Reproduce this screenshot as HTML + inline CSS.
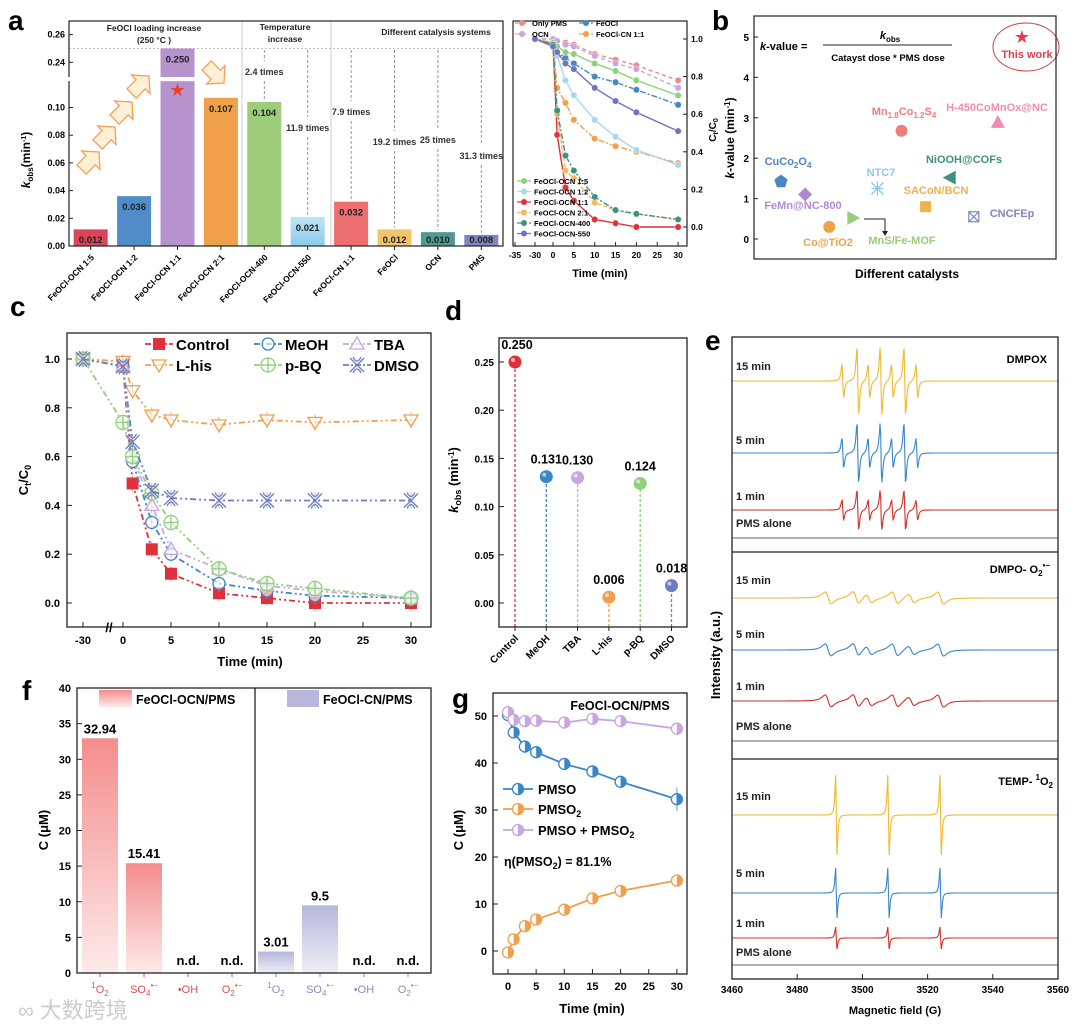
<!DOCTYPE html>
<html><head><meta charset="utf-8"><style>
html,body{margin:0;padding:0;background:#fff}
svg{display:block;font-family:"Liberation Sans",Arial,sans-serif}
</style></head><body>
<svg id="fig" width="1080" height="1027" viewBox="0 0 1080 1027" xmlns="http://www.w3.org/2000/svg">
<defs>
<linearGradient id="gRed" x1="0" y1="0" x2="0" y2="1"><stop offset="0" stop-color="#f58c8c"/><stop offset="1" stop-color="#fdeaea"/></linearGradient>
<linearGradient id="gPur" x1="0" y1="0" x2="0" y2="1"><stop offset="0" stop-color="#b7b7dc"/><stop offset="1" stop-color="#eeeef7"/></linearGradient>
<linearGradient id="gLb" x1="0" y1="0" x2="0" y2="1"><stop offset="0" stop-color="#bfe3f5"/><stop offset="1" stop-color="#8ccbec"/></linearGradient>
</defs>
<rect width="1080" height="1027" fill="#fff"/>
<g font-weight="bold" font-size="28">
<text x="8" y="30">a</text>
<text x="712" y="30">b</text>
<text x="10" y="316">c</text>
<text x="445" y="320">d</text>
<text x="705" y="350">e</text>
<text x="22" y="700">f</text>
<text x="452" y="708">g</text>
</g>
<text x="18" y="1018" font-size="22" fill="#ccc" font-family="'Liberation Sans','Noto Sans CJK SC',sans-serif">∞ 大数跨境</text>
</svg>
<script>
const NS='http://www.w3.org/2000/svg';
const svg=document.getElementById('fig');
function mk(tag,attrs,parent){const e=document.createElementNS(NS,tag);for(const k in attrs)e.setAttribute(k,attrs[k]);(parent||svg).appendChild(e);return e;}
function txt(s,x,y,a,parent){const e=mk('text',Object.assign({x:x,y:y},a||{}),parent);e.innerHTML=s;return e;}
function grp(){const g=mk('g',{});return g;}

/* ================= PANEL A data ================= */
const aCats=['FeOCl-OCN 1:5','FeOCl-OCN 1:2','FeOCl-OCN 1:1','FeOCl-OCN 2:1','FeOCl-OCN-400','FeOCl-OCN-550','FeOCl-CN 1:1','FeOCl','OCN','PMS'];
const aVals=[0.012,0.036,0.250,0.107,0.104,0.021,0.032,0.012,0.010,0.008];
const aColors=['#d9465a','#4f8cc9','#b693cc','#f0a04b','#9dcd7b','url(#gLb)','#ee6f6f','#f2c46d','#4f9a8f','#7f86c0'];
const aTimes=['','','','','2.4 times','11.9 times','7.9 times','19.2 times','25 times','31.3 times'];
const aTicksLow=[0,0.02,0.04,0.06,0.08,0.10];
const aTicksHigh=[0.24,0.26];
/* ================= INSET data ================= */
const iTimes=[-30,0,1,3,5,10,15,20,30];
const iNames=['Only PMS','OCN','FeOCl','FeOCl-CN 1:1','FeOCl-OCN 1:5','FeOCl-OCN 1:2','FeOCl-OCN 1:1','FeOCl-OCN 2:1','FeOCl-OCN-400','FeOCl-OCN-550'];
const iS0=[1,1,0.99,0.98,0.97,0.92,0.89,0.86,0.78];
const iS1=[1,1,0.99,0.97,0.96,0.91,0.87,0.84,0.74];
const iS2=[1,0.97,0.93,0.9,0.87,0.8,0.77,0.73,0.65];
const iS3=[1,0.98,0.74,0.66,0.57,0.47,0.43,0.4,0.34];
const iS4=[1,0.98,0.96,0.93,0.92,0.87,0.83,0.78,0.7];
const iS5=[1,0.97,0.91,0.78,0.7,0.57,0.48,0.41,0.33];
const iS6=[1,0.97,0.49,0.21,0.14,0.04,0.02,0.0,0.0];
const iS7=[1,0.97,0.6,0.3,0.26,0.13,0.09,0.07,0.04];
const iS8=[1,0.97,0.62,0.38,0.3,0.16,0.09,0.07,0.04];
const iS9=[1,0.96,0.93,0.87,0.84,0.74,0.67,0.61,0.51];
/* ================= PANEL B data ================= */
const bNames=['CuCo<tspan font-size="8" dy="3">2</tspan><tspan dy="-3">O</tspan><tspan font-size="8" dy="3">4</tspan>','FeMn@NC-800','Co@TiO2','MnS/Fe-MOF','NTC7','Mn<tspan font-size="8" dy="3">1.8</tspan><tspan dy="-3">Co</tspan><tspan font-size="8" dy="3">1.2</tspan><tspan dy="-3">S</tspan><tspan font-size="8" dy="3">4</tspan>','SACoN/BCN','NiOOH@COFs','CNCFEp','H-450CoMnOx@NC','This work'];
const bVals=[1.42,1.1,0.3,0.52,1.25,2.68,0.8,1.52,0.55,2.9,5.0];
const bTicks=[0,1,2,3,4,5];
/* ================= PANEL C data ================= */
const cTimes=[-30,0,1,3,5,10,15,20,30];
const cNames=['Control','MeOH','TBA','L-his','p-BQ','DMSO'];
const cControl=[1,0.97,0.49,0.22,0.12,0.04,0.02,0.0,0.0];
const cMeOH=[1,0.97,0.58,0.33,0.2,0.08,0.05,0.03,0.02];
const cTBA=[1,0.97,0.6,0.4,0.22,0.14,0.07,0.05,0.02];
const cLhis=[1,0.99,0.87,0.77,0.75,0.73,0.75,0.74,0.75];
const cPBQ=[1,0.74,0.6,0.45,0.33,0.14,0.08,0.06,0.02];
const cDMSO=[1,0.97,0.66,0.46,0.43,0.42,0.42,0.42,0.42];
const cYTicks=[0,0.2,0.4,0.6,0.8,1.0];
const cXTicks=[-30,0,5,10,15,20,25,30];
/* ================= PANEL D data ================= */
const dCats=['Control','MeOH','TBA','L-his','p-BQ','DMSO'];
const dVals=[0.250,0.131,0.130,0.006,0.124,0.018];
const dTicks=[0,0.05,0.10,0.15,0.20,0.25];
/* ================= PANEL F data ================= */
const fCats=['<tspan font-size="8" dy="-5">1</tspan><tspan dy="5">O</tspan><tspan font-size="8" dy="3">2</tspan>','SO<tspan font-size="8" dy="3">4</tspan><tspan font-size="8" dy="-8">•−</tspan>','•OH','O<tspan font-size="8" dy="3">2</tspan><tspan font-size="8" dy="-8">•−</tspan>'];
const fOCN=[32.94,15.41,0,0];
const fCN=[3.01,9.5,0,0];
const fOCNLbl=['32.94','15.41','n.d.','n.d.'];
const fCNLbl=['3.01','9.5','n.d.','n.d.'];
const fTicks=[0,5,10,15,20,25,30,35,40];
/* ================= PANEL G data ================= */
const gTimes=[0,1,3,5,10,15,20,30];
const gPMSO=[50.2,46.5,43.5,42.3,39.8,38.2,36.0,32.3];
const gPMSO2=[-0.3,2.5,5.3,6.7,8.8,11.2,12.8,15.0];
const gSum=[50.8,49.2,48.9,49.0,48.6,49.4,48.9,47.3];
const gYTicks=[0,10,20,30,40,50];
const gXTicks=[0,5,10,15,20,25,30];
/* ================= PANEL E data ================= */
const eXTicks=[3460,3480,3500,3520,3540,3560];
const eDmpoxPos=[3494,3498.6,3502,3505.7,3509.2,3513,3516.7];
const eDmpoxRel=[1,2,1,2,1,2,1];
const eDmpoxAmp=[34,30,20,0];
const eO2Pos=[3489.5,3498,3502,3510,3515,3524];
const eO2Rel=[1,1,0.7,1,0.7,1];
const eO2Amp=[6,6,6,0];
const eTempPos=[3492,3508,3524];
const eTempAmp=[40,25,11,0];

/* ---------- PANEL A ---------- */
(function(){
const g=grp();


const L=69,R=503,T=21,B=246;
function ya(v){return v<=0.12? B-v*1385 : 48.5-(v-0.25)*1385;}
function xa(i){return L+(i+0.5)*(R-L)/aCats.length;}
let e=mk('line',{x1:L,y1:48.5,x2:R,y2:48.5,stroke:'#aaa','stroke-dasharray':'2,2','stroke-width':0.8},g);


[242,331].forEach(function(x){const s=mk('line',{x1:x,y1:T,x2:x,y2:B,stroke:'#ccc','stroke-width':1},g);

});
aVals.forEach(function(v,i){
  const w=34,x=xa(i)-w/2;
  if(v>0.12){
    const b1=mk('rect',{x:x,y:ya(0.119),width:w,height:B-ya(0.119),fill:aColors[i]},g);
    
    
    const b2=mk('rect',{x:x,y:ya(v),width:w,height:77-ya(v),fill:aColors[i]},g);
    
    
    const st=txt('★',xa(i),ya(0.112)+5,{'text-anchor':'middle','font-size':18,fill:'#e8402a'},g);
    
    
  } else {
    const b=mk('rect',{x:x,y:ya(v),width:w,height:B-ya(v),fill:aColors[i]},g);
    
    
  }
  const lt=txt(v.toFixed(3),xa(i),Math.min(ya(v)+14,B-3),{'text-anchor':'middle','font-size':9.5,'font-weight':'bold',fill:'#222'},g);
  
  
  const xl=txt(aCats[i],xa(i)+4,B+12,{'text-anchor':'end','font-size':8.5,'font-weight':'bold',transform:'rotate(-45 '+(xa(i)+4)+' '+(B+12)+')'},g);
  
  
  const tk=mk('line',{x1:xa(i),y1:B,x2:xa(i),y2:B+4,stroke:'#222'},g);
  
  
  if(aTimes[i]){
    const ly=[75,131,115,145,143,159][i-4];
    const a1=mk('line',{x1:xa(i),y1:50,x2:xa(i),y2:ly-14,stroke:'#888','stroke-dasharray':'3,2','stroke-width':0.9},g);
    
    
    const a2=mk('line',{x1:xa(i),y1:ly+6,x2:xa(i),y2:ya(v)-2,stroke:'#888','stroke-dasharray':'3,2','stroke-width':0.9},g);
    
    
    const tl=txt(aTimes[i],xa(i),ly,{'text-anchor':'middle','font-size':9,'font-weight':'bold',fill:'#333'},g);
    
    
  }
});
[[88,163],[104,138],[121,113],[138,87],[213,72]].forEach(function(p,k){
  const ang=k<4?-45:45;
  const ar=mk('path',{d:'M-7,-5 L3,-5 L3,-10 L12,0 L3,10 L3,5 L-7,5 Z',fill:'#fdf0d5',stroke:'#f5a05a','stroke-width':1,transform:'translate('+p[0]+','+p[1]+') rotate('+ang+') scale(1.3)'},g);
  
  
});
const bx=mk('rect',{x:L,y:T,width:R-L,height:B-T,fill:'none',stroke:'#222','stroke-width':1.2},g);


const br=mk('rect',{x:L-4,y:77,width:8,height:4,fill:'#fff'},g);


aTicksLow.concat(aTicksHigh).forEach(function(v){
  const t=mk('line',{x1:L,y1:ya(v),x2:L+4,y2:ya(v),stroke:'#222'},g);
  
  
  const l=txt(v.toFixed(2),L-4,ya(v)+3,{'text-anchor':'end','font-size':9,'font-weight':'bold'},g);
  
  
});
const yt=txt('<tspan font-style="italic">k</tspan><tspan font-size="8" dy="3">obs</tspan><tspan dy="-3">(min</tspan><tspan font-size="7" dy="-4">-1</tspan><tspan dy="4">)</tspan>',30,160,{'text-anchor':'middle','font-size':12,'font-weight':'bold',transform:'rotate(-90 30 160)'},g);


[['FeOCl loading increase',154,31],['(250 °C )',154,43],['Temperature',285,30],['increase',285,42],['Different catalysis systems',436,35]].forEach(function(h){
  const t=txt(h[0],h[1],h[2],{'text-anchor':'middle','font-size':8.5,'font-weight':'bold',fill:'#222'},g);
  
  
});
})();

/* ---------- INSET (a right) ---------- */
(function(){
const g=grp();


const L=513,R=687,T=21,B=246;
function xi(t){return t<0? 535+(t+30)*4 : 553+t*4.17;}
function yi(v){return 227-v*188;}
const series=[iS0,iS1,iS2,iS3,iS4,iS5,iS6,iS7,iS8,iS9];
const cols=['#f08a8a','#c9a6e0','#4a86c5','#f0a04b','#8fd07a','#a8d8f0','#e0303a','#f5b860','#3f9080','#7074c0'];
const dash=['4,3','4,3','6,2,2,2','6,2,2,2','','','','4,2','6,2,2,2',''];
series.forEach(function(s,k){
  const pts=s.map(function(v,j){return xi(iTimes[j])+','+yi(v);}).join(' ');
  const pl=mk('polyline',{points:pts,fill:'none',stroke:cols[k],'stroke-width':1.4,'stroke-dasharray':dash[k]},g);
  
  
  s.forEach(function(v,j){
    const c=mk('circle',{cx:xi(iTimes[j]),cy:yi(v),r:3.2,fill:cols[k],stroke:'#fff','stroke-width':0.4},g);
    
    
  });
});
const bx=mk('rect',{x:L,y:T,width:R-L,height:B-T,fill:'none',stroke:'#222','stroke-width':1.2},g);


[-35,-30,0,5,10,15,20,25,30].forEach(function(t){
  const x=t<0?(t===-35?515:535):xi(t);
  const tk=mk('line',{x1:x,y1:B,x2:x,y2:B-4,stroke:'#222'},g);
  
  
  const l=txt(String(t),x,B+12,{'text-anchor':'middle','font-size':8.5,'font-weight':'bold'},g);
  
  
});
[0,0.2,0.4,0.6,0.8,1.0].forEach(function(v){
  const tk=mk('line',{x1:R,y1:yi(v),x2:R-4,y2:yi(v),stroke:'#222'},g);
  
  
  const l=txt(v.toFixed(1),R+4,yi(v)+3,{'font-size':8.5,'font-weight':'bold'},g);
  
  
});
const xt=txt('Time (min)',600,277,{'text-anchor':'middle','font-size':11,'font-weight':'bold'},g);


const yt=txt('C<tspan font-size="7" dy="2">t</tspan><tspan dy="-2">/C</tspan><tspan font-size="7" dy="2">0</tspan>',716,130,{'text-anchor':'middle','font-size':10,'font-weight':'bold',transform:'rotate(-90 716 130)'},g);


const leg=[[0,522,26],[2,586,26],[1,522,37],[3,586,37],[4,524,184],[5,524,194.5],[6,524,205],[7,524,215.5],[8,524,226],[9,524,236.5]];
leg.forEach(function(p){
  const k=p[0];
  const ln=mk('line',{x1:p[1]-7,y1:p[2]-3,x2:p[1]+7,y2:p[2]-3,stroke:cols[k],'stroke-width':1.2,'stroke-dasharray':dash[k]},g);
  
  
  const c=mk('circle',{cx:p[1],cy:p[2]-3,r:3,fill:cols[k]},g);
  
  
  const t=txt(iNames[k],p[1]+10,p[2],{'font-size':7.5,'font-weight':'bold'},g);
  
  
});
})();

/* ---------- PANEL B ---------- */
(function(){
const g=grp();


const L=754,R=1056,T=16,B=259;
function yb(v){return 239-v*40.4;}
function xb(i){return 781+i*24.1;}
const cols=['#4a86c5','#b08ad0','#f0a04b','#9ccc7a','#8cc8ec','#f07c7c','#f0b050','#3f9080','#7f86c0','#f08cb0','#e04050'];
const lbl=[[788,165],[803,209],[828,246],[902,244],[881,176],[904,115],[936,194],[964,163],[1012,217],[997,111],[1027,58]];
bVals.forEach(function(v,i){
  const x=xb(i),y=yb(v),c=cols[i];let m;
  switch(i){
    case 0:m=mk('polygon',{points:[0,1,2,3,4].map(function(k){const a=-Math.PI/2+k*2*Math.PI/5;return (x+7*Math.cos(a))+','+(y+7*Math.sin(a));}).join(' '),fill:c},g);break;
    case 1:m=mk('polygon',{points:(x)+','+(y-7)+' '+(x+7)+','+y+' '+x+','+(y+7)+' '+(x-7)+','+y,fill:c},g);break;
    case 2:case 5:m=mk('circle',{cx:x,cy:y,r:6,fill:c},g);break;
    case 3:m=mk('polygon',{points:(x-6)+','+(y-7)+' '+(x+7)+','+y+' '+(x-6)+','+(y+7),fill:c},g);break;
    case 4:m=mk('path',{d:'M'+(x-6)+','+(y-6)+'L'+(x+6)+','+(y+6)+'M'+(x+6)+','+(y-6)+'L'+(x-6)+','+(y+6)+'M'+(x-6)+','+(y)+'L'+(x+6)+','+(y)+'M'+x+','+(y-7)+'L'+x+','+(y+7),stroke:c,'stroke-width':1.3,fill:'none'},g);break;
    case 6:m=mk('rect',{x:x-5.5,y:y-5.5,width:11,height:11,fill:c},g);break;
    case 7:m=mk('polygon',{points:(x+6)+','+(y-7)+' '+(x-7)+','+y+' '+(x+6)+','+(y+7),fill:c},g);break;
    case 8:m=mk('path',{d:'M'+(x-5)+','+(y-5)+'h10v10h-10zM'+(x-5)+','+(y-5)+'L'+(x+5)+','+(y+5)+'M'+(x+5)+','+(y-5)+'L'+(x-5)+','+(y+5),stroke:c,'stroke-width':1.2,fill:'none'},g);break;
    case 9:m=mk('polygon',{points:x+','+(y-7)+' '+(x+7)+','+(y+6)+' '+(x-7)+','+(y+6),fill:c},g);break;
    default:m=txt('★',x,y+6,{'text-anchor':'middle','font-size':18,fill:c},g);
  }
  
  
  const t=txt(bNames[i],lbl[i][0],lbl[i][1],{'text-anchor':'middle','font-size':11,'font-weight':'bold',fill:c},g);
  
  
});
const el=mk('ellipse',{cx:1026,cy:47,rx:33,ry:24,fill:'none',stroke:'#d04040','stroke-width':1},g);


const ar=mk('path',{d:'M864,219 H885 V233',fill:'none',stroke:'#222','stroke-width':1},g);


const ah=mk('polygon',{points:'882,231 888,231 885,236',fill:'#222'},g);


const bx=mk('rect',{x:L,y:T,width:R-L,height:B-T,fill:'none',stroke:'#222','stroke-width':1.2},g);


bTicks.forEach(function(v){
  const tk=mk('line',{x1:L,y1:yb(v),x2:L+4,y2:yb(v),stroke:'#222'},g);
  
  
  const l=txt(String(v),L-5,yb(v)+4,{'text-anchor':'end','font-size':10,'font-weight':'bold'},g);
  
  
});
const f1=txt('<tspan font-style="italic">k</tspan>-value =',760,50,{'font-size':11,'font-weight':'bold'},g);


const fl=mk('line',{x1:823,y1:45,x2:952,y2:45,stroke:'#222','stroke-width':1},g);


const f2=txt('<tspan font-style="italic">k</tspan><tspan font-size="8" dy="3">obs</tspan>',890,39,{'text-anchor':'middle','font-size':11,'font-weight':'bold'},g);


const f3=txt('Catayst dose * PMS dose',888,61,{'text-anchor':'middle','font-size':9.5,'font-weight':'bold'},g);


const yt=txt('<tspan font-style="italic">k</tspan>-value (min<tspan font-size="8" dy="-4">-1</tspan><tspan dy="4">)</tspan>',734,138,{'text-anchor':'middle','font-size':12,'font-weight':'bold',transform:'rotate(-90 734 138)'},g);


const xt=txt('Different catalysts',907,278,{'text-anchor':'middle','font-size':12,'font-weight':'bold'},g);


})();

/* ---------- PANEL C ---------- */
(function(){
const g=grp();


const L=67,R=431,T=333,B=627;
function xc(t){return t<0? 123+t*(40/30) : 123+t*9.6;}
function yc(v){return 603-v*244;}
const ser=[cControl,cMeOH,cTBA,cLhis,cPBQ,cDMSO];
const cols=['#e0303a','#3a86c8','#c9a6e0','#f0a04b','#8fd07a','#6f7bc0'];
function marker(k,x,y,parent){
  const c=cols[k];let m;
  if(k===0)m=mk('rect',{x:x-6,y:y-6,width:12,height:12,fill:c},parent);
  else if(k===1)m=mk('circle',{cx:x,cy:y,r:6,fill:'#fff','fill-opacity':0.6,stroke:c,'stroke-width':1.3},parent);
  else if(k===2)m=mk('polygon',{points:x+','+(y-7)+' '+(x+7)+','+(y+5)+' '+(x-7)+','+(y+5),fill:'#fff','fill-opacity':0.6,stroke:c,'stroke-width':1.3},parent);
  else if(k===3)m=mk('polygon',{points:x+','+(y+7)+' '+(x+7)+','+(y-5)+' '+(x-7)+','+(y-5),fill:'#fff','fill-opacity':0.6,stroke:c,'stroke-width':1.3},parent);
  else if(k===4)m=mk('path',{d:'M'+(x-7)+','+y+'a7,7 0 1,0 14,0a7,7 0 1,0 -14,0M'+x+','+(y-7)+'V'+(y+7)+'M'+(x-7)+','+y+'H'+(x+7),fill:'#fff','fill-opacity':0.6,stroke:c,'stroke-width':1.3},parent);
  else m=mk('path',{d:'M'+(x-7)+','+(y-7)+'L'+(x+7)+','+(y+7)+'M'+(x+7)+','+(y-7)+'L'+(x-7)+','+(y+7)+'M'+(x-4)+','+(y-8)+'Q'+x+','+y+' '+(x+4)+','+(y-8)+'M'+(x-4)+','+(y+8)+'Q'+x+','+y+' '+(x+4)+','+(y+8),fill:'none',stroke:c,'stroke-width':1.3},parent);
  return m;
}
ser.forEach(function(s,k){
  const pts=s.map(function(v,j){return xc(cTimes[j])+','+yc(v);}).join(' ');
  const pl=mk('polyline',{points:pts,fill:'none',stroke:cols[k],'stroke-width':1.8,'stroke-dasharray':'6,3,2,3,2,3'},g);
  
  
  s.forEach(function(v,j){
    const eb=mk('line',{x1:xc(cTimes[j]),y1:yc(v)-8,x2:xc(cTimes[j]),y2:yc(v)+8,stroke:'#aaa','stroke-width':0.8},g);
    
    
    const m=marker(k,xc(cTimes[j]),yc(v),g);
    
    
  });
});
const bx=mk('rect',{x:L,y:T,width:R-L,height:B-T,fill:'none',stroke:'#222','stroke-width':1.3},g);


const brk=txt('//',109,B+5,{'text-anchor':'middle','font-size':13,'font-weight':'bold'},g);


cYTicks.forEach(function(v){
  const tk=mk('line',{x1:L,y1:yc(v),x2:L+5,y2:yc(v),stroke:'#222'},g);
  
  
  const l=txt(v.toFixed(1),L-7,yc(v)+4,{'text-anchor':'end','font-size':11,'font-weight':'bold'},g);
  
  
});
cXTicks.forEach(function(t){
  const tk=mk('line',{x1:xc(t),y1:B,x2:xc(t),y2:B-5,stroke:'#222'},g);
  
  
  const l=txt(String(t),xc(t),B+17,{'text-anchor':'middle','font-size':11,'font-weight':'bold'},g);
  
  
});
const xt=txt('Time (min)',250,666,{'text-anchor':'middle','font-size':13,'font-weight':'bold'},g);


const yt=txt('C<tspan font-size="9" dy="3">t</tspan><tspan dy="-3">/C</tspan><tspan font-size="9" dy="3">0</tspan>',28,480,{'text-anchor':'middle','font-size':13,'font-weight':'bold',transform:'rotate(-90 28 480)'},g);


const lp=[[0,159,344],[1,268,344],[2,357,344],[3,159,365],[4,268,365],[5,357,365]];
lp.forEach(function(p){
  const k=p[0];
  const ln=mk('line',{x1:p[1]-14,y1:p[2],x2:p[1]+14,y2:p[2],stroke:cols[k],'stroke-width':1.8,'stroke-dasharray':'6,2,2,2'},g);
  
  
  const m=marker(k,p[1],p[2],g);
  
  
  const t=txt(cNames[k],p[1]+17,p[2]+6,{'font-size':15,'font-weight':'bold'},g);
  
  
});
})();

/* ---------- PANEL D ---------- */
(function(){
const g=grp();


const L=499,R=687,T=338,B=627;
function yd(v){return 603-v*964;}
function xd(i){return 515+i*31.3;}
const cols=['#e0303a','#3a86c8','#c9a6e0','#f0a04b','#8fd07a','#6f7bc0'];
dVals.forEach(function(v,i){
  const st=mk('line',{x1:xd(i),y1:B,x2:xd(i),y2:yd(v),stroke:cols[i],'stroke-width':1.3,'stroke-dasharray':'3,2'},g);
  
  
  const c=mk('circle',{cx:xd(i),cy:yd(v),r:6.5,fill:cols[i]},g);
  
  
  const hl=mk('circle',{cx:xd(i)-2,cy:yd(v)-2,r:2,fill:'#fff','fill-opacity':0.6},g);
  
  
  const l=txt(v.toFixed(3),xd(i)+(i===0?2:0),yd(v)-13,{'text-anchor':'middle','font-size':12.5,'font-weight':'bold'},g);
  
  
  const tk=mk('line',{x1:xd(i),y1:B,x2:xd(i),y2:B+4,stroke:'#222'},g);
  
  
  const xl=txt(dCats[i],xd(i)+4,B+12,{'text-anchor':'end','font-size':10,'font-weight':'bold',transform:'rotate(-45 '+(xd(i)+4)+' '+(B+12)+')'},g);
  
  
});
const bx=mk('rect',{x:L,y:T,width:R-L,height:B-T,fill:'none',stroke:'#222','stroke-width':1.3},g);


dTicks.forEach(function(v){
  const tk=mk('line',{x1:L,y1:yd(v),x2:L+5,y2:yd(v),stroke:'#222'},g);
  
  
  const l=txt(v.toFixed(2),L-5,yd(v)+4,{'text-anchor':'end','font-size':10,'font-weight':'bold'},g);
  
  
});
const yt=txt('<tspan font-style="italic">k</tspan><tspan font-size="9" dy="3">obs</tspan><tspan dy="-3"> (min</tspan><tspan font-size="8" dy="-4">-1</tspan><tspan dy="4">)</tspan>',458,480,{'text-anchor':'middle','font-size':13,'font-weight':'bold',transform:'rotate(-90 458 480)'},g);


})();

/* ---------- PANEL E ---------- */
(function(){
const g=grp();


const L=732,R=1058,T=337,B=979,D1=552,D2=759;
function xe(G){return L+(G-3460)*(R-L)/100;}
function dl(x,c,w){const u=(x-c)/w;return -2*u/Math.pow(1+u*u,2)/0.65;}
const cols=['#f2b92e','#3a86c8','#d0302a','#666'];
const times=['15 min','5 min','1 min','PMS alone'];
function trace(base,pos,rel,amp,w,col,name,parent){
  let d='';
  for(let G=3460;G<=3560;G+=0.2){
    let s=0;pos.forEach(function(c,k){s+=rel[k]*dl(G,c,w);});
    const y=base-s*amp;
    d+=(d?'L':'M')+xe(G).toFixed(1)+','+y.toFixed(1);
  }
  const p=mk('path',{d:d,fill:'none',stroke:col,'stroke-width':1.1},parent);
  
  
}
const b1=[381,453,510,538],l1=[370,444,500,527];
const b2=[598,650,701,741],l2=[584,638,690,730];
const b3=[815,893,938,965],l3=[800,877,927,956];
for(let k=0;k<4;k++){
  trace(b1[k],eDmpoxPos,eDmpoxRel,eDmpoxAmp[k]/2,0.45,cols[k],'dmpox-trace-'+k,g);
  trace(b2[k],eO2Pos,eO2Rel,eO2Amp[k],1.6,cols[k],'dmpo-o2-trace-'+k,g);
  trace(b3[k],eTempPos,[1,1,1],eTempAmp[k],0.35,cols[k],'temp-trace-'+k,g);
  [[l1[k],'dmpox'],[l2[k],'dmpo-o2'],[l3[k],'temp']].forEach(function(q){
    const t=txt(times[k],736,q[0],{'font-size':11,'font-weight':'bold',fill:'#222'},g);
    
    
  });
}
const bx=mk('rect',{x:L,y:T,width:R-L,height:B-T,fill:'none',stroke:'#222','stroke-width':1.3},g);


[D1,D2].forEach(function(y){
  const dv=mk('line',{x1:L,y1:y,x2:R,y2:y,stroke:'#222','stroke-width':1.3},g);
  
  
});
const t1=txt('DMPOX',1047,363,{'text-anchor':'end','font-size':11,'font-weight':'bold'},g);


const t2=txt('DMPO- O<tspan font-size="8" dy="3">2</tspan><tspan font-size="8" dy="-8">•−</tspan>',1050,573,{'text-anchor':'end','font-size':11,'font-weight':'bold'},g);


const t3=txt('TEMP- <tspan font-size="8" dy="-5">1</tspan><tspan dy="5">O</tspan><tspan font-size="8" dy="3">2</tspan>',1053,785,{'text-anchor':'end','font-size':11,'font-weight':'bold'},g);


eXTicks.forEach(function(v){
  const tk=mk('line',{x1:xe(v),y1:B,x2:xe(v),y2:B-5,stroke:'#222'},g);
  
  
  const l=txt(String(v),xe(v),B+14,{'text-anchor':'middle','font-size':10,'font-weight':'bold'},g);
  
  
});
const xt=txt('Magnetic field (G)',895,1014,{'text-anchor':'middle','font-size':11,'font-weight':'bold'},g);


const yt=txt('Intensity (a.u.)',720,655,{'text-anchor':'middle','font-size':13,'font-weight':'bold',transform:'rotate(-90 720 655)'},g);


})();

/* ---------- PANEL F ---------- */
(function(){
const g=grp();


const L=77,R=431,T=688,B=973;
function yf(v){return B-v*7.125;}
function xf(i){return 100+i*44;}
function bars(vals,lbls,off,fill,tc,nm){
  vals.forEach(function(v,i){
    const x=xf(i+off);
    if(v>0){
      const r=mk('rect',{x:x-18,y:yf(v),width:36,height:B-yf(v),fill:fill},g);
      
      
    }
    const l=txt(lbls[i],x,yf(v)-(v>0?5:8),{'text-anchor':'middle','font-size':13,'font-weight':'bold'},g);
    
    
    const tk=mk('line',{x1:x,y1:B,x2:x,y2:B+4,stroke:tc},g);
    
    
    const xl=txt(fCats[i],x,B+20,{'text-anchor':'middle','font-size':11,fill:tc},g);
    
    
  });
}
bars(fOCN,fOCNLbl,0,'url(#gRed)','#e05050','ocn');
bars(fCN,fCNLbl,4,'url(#gPur)','#8a8ac0','cn');
const bx=mk('rect',{x:L,y:T,width:R-L,height:B-T,fill:'none',stroke:'#222','stroke-width':1.3},g);


const dv=mk('line',{x1:255,y1:T,x2:255,y2:B,stroke:'#222','stroke-width':1.3},g);


fTicks.forEach(function(v){
  const tk=mk('line',{x1:L,y1:yf(v),x2:L+5,y2:yf(v),stroke:'#222'},g);
  
  
  const l=txt(String(v),L-6,yf(v)+4,{'text-anchor':'end','font-size':11,'font-weight':'bold'},g);
  
  
});
const yt=txt('C (μM)',48,830,{'text-anchor':'middle','font-size':13,'font-weight':'bold',transform:'rotate(-90 48 830)'},g);


const lr=mk('rect',{x:99,y:690,width:33,height:17,fill:'url(#gRed)'},g);


const lt=txt('FeOCl-OCN/PMS',136,704,{'font-size':12.5,'font-weight':'bold'},g);


const lr2=mk('rect',{x:287,y:690,width:32,height:17,fill:'#b8b8dc'},g);


const lt2=txt('FeOCl-CN/PMS',323,704,{'font-size':12.5,'font-weight':'bold'},g);


})();

/* ---------- PANEL G ---------- */
(function(){
const g=grp();


const L=493,R=687,T=693,B=974;
function yg(v){return 951-v*4.7;}
function xg(t){return 508+t*5.63;}
const sers=[gPMSO,gPMSO2,gSum],cols=['#3a86c8','#f0a04b','#c9a6e0'],nms=['PMSO','PMSO<tspan font-size="9" dy="3">2</tspan>','PMSO + PMSO<tspan font-size="9" dy="3">2</tspan>'];
function hm(x,y,c,parent){
  const gg=mk('g',{},parent);
  mk('circle',{cx:x,cy:y,r:5.5,fill:'#fff',stroke:c,'stroke-width':1.3},gg);
  mk('path',{d:'M'+x+','+(y-5.5)+'A5.5,5.5 0 0,1 '+x+','+(y+5.5)+'Z',fill:c},gg);
  return gg;
}
sers.forEach(function(s,k){
  const pts=s.map(function(v,j){return xg(gTimes[j])+','+yg(v);}).join(' ');
  const pl=mk('polyline',{points:pts,fill:'none',stroke:cols[k],'stroke-width':1.8},g);
  
  
  s.forEach(function(v,j){
    const m=hm(xg(gTimes[j]),yg(v),cols[k],g);
    
    
  });
});
const eb=mk('line',{x1:xg(30),y1:yg(34.8),x2:xg(30),y2:yg(29.8),stroke:'#3a86c8','stroke-width':0.8},g);


const bx=mk('rect',{x:L,y:T,width:R-L,height:B-T,fill:'none',stroke:'#222','stroke-width':1.3},g);


gYTicks.forEach(function(v){
  const tk=mk('line',{x1:L,y1:yg(v),x2:L+5,y2:yg(v),stroke:'#222'},g);
  
  
  const l=txt(String(v),L-6,yg(v)+4,{'text-anchor':'end','font-size':11,'font-weight':'bold'},g);
  
  
});
gXTicks.forEach(function(t){
  const tk=mk('line',{x1:xg(t),y1:B,x2:xg(t),y2:B-5,stroke:'#222'},g);
  
  
  const l=txt(String(t),xg(t),B+16,{'text-anchor':'middle','font-size':11,'font-weight':'bold'},g);
  
  
});
const xt=txt('Time (min)',592,1013,{'text-anchor':'middle','font-size':13,'font-weight':'bold'},g);


const yt=txt('C (μM)',463,830,{'text-anchor':'middle','font-size':13,'font-weight':'bold',transform:'rotate(-90 463 830)'},g);


const tt=txt('FeOCl-OCN/PMS',620,710,{'text-anchor':'middle','font-size':12.5,'font-weight':'bold'},g);


[793,813,834].forEach(function(y,k){
  const ln=mk('line',{x1:503,y1:y-4,x2:533,y2:y-4,stroke:cols[k],'stroke-width':1.8},g);
  
  
  const m=hm(518,y-4,cols[k],g);
  
  
  const t=txt(nms[k],538,y+1,{'font-size':13,'font-weight':'bold'},g);
  
  
});
const et=txt('η(PMSO<tspan font-size="9" dy="3">2</tspan><tspan dy="-3">) = 81.1%</tspan>',504,866,{'font-size':12.5,'font-weight':'bold'},g);


})();
</script>
</body></html>
